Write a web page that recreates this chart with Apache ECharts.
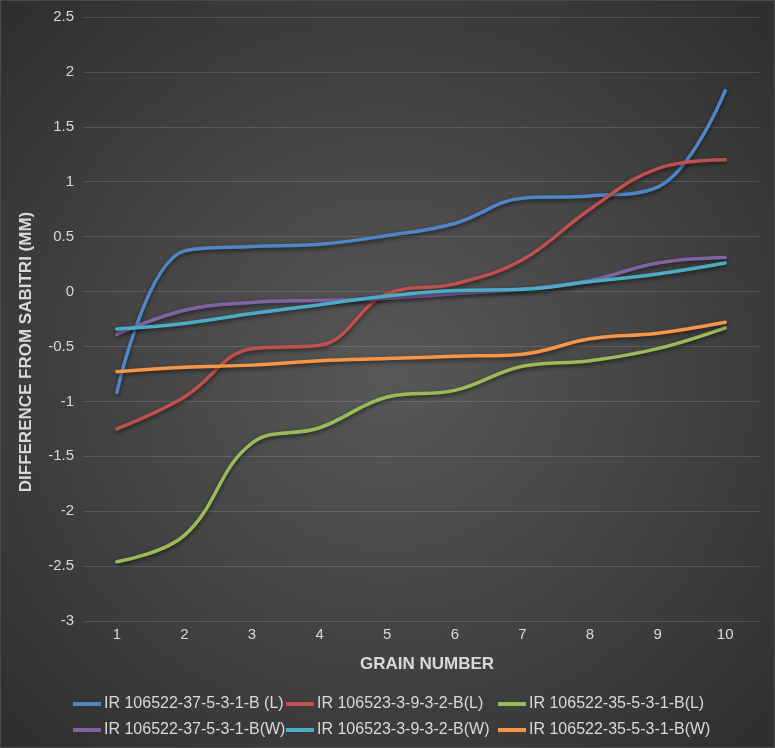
<!DOCTYPE html>
<html>
<head>
<meta charset="utf-8">
<script src="https://cdn.jsdelivr.net/npm/echarts@6/dist/echarts.min.js"></script>
<style>
  html, body { margin: 0; padding: 0; background: #2b2b2b; }
  #chart {
    width: 773px;
    height: 746px;
    border: 1px solid #4a4a4a;
    background: radial-gradient(ellipse at 50% 50%, #585858 0%, #464646 45%, #2e2e2e 100%);
  }
</style>
</head>
<body>
<div id="chart"></div>
<script>
const grainNumbers = ['1', '2', '3', '4', '5', '6', '7', '8', '9', '10']
const seriesNames = [
  'IR 106522-37-5-3-1-B (L)',
  'IR 106523-3-9-3-2-B(L)',
  'IR 106522-35-5-3-1-B(L)',
  'IR 106522-37-5-3-1-B(W)',
  'IR 106523-3-9-3-2-B(W)',
  'IR 106522-35-5-3-1-B(W)'
]
const length37 = [-0.92, 0.37, 0.41, 0.43, 0.51, 0.62, 0.85, 0.87, 0.95, 1.83]
const length523 = [-1.25, -0.96, -0.52, -0.49, -0.02, 0.07, 0.29, 0.75, 1.12, 1.20]
const length35 = [-2.46, -2.22, -1.38, -1.24, -0.96, -0.90, -0.68, -0.63, -0.52, -0.33]
const width37 = [-0.39, -0.17, -0.10, -0.08, -0.06, -0.02, 0.02, 0.10, 0.26, 0.31]
const width523 = [-0.34, -0.29, -0.20, -0.12, -0.04, 0.01, 0.02, 0.09, 0.16, 0.26]
const width35 = [-0.73, -0.69, -0.67, -0.63, -0.61, -0.59, -0.57, -0.43, -0.38, -0.28]
const yTicks = { min: -3, max: 2.5, interval: 0.5 }

const colors = ['#4f86c6', '#c0504d', '#9bbb59', '#8064a2', '#4bacc6', '#f79646']
const allValues = [length37, length523, length35, width37, width523, width35]

const textColor = '#d9d9d9'
const fontFamily = '"Liberation Sans", Arial, sans-serif'

const chartDom = document.getElementById('chart')
const myChart = echarts.init(chartDom)

const makeLegend = (left, names) => ({
  orient: 'vertical',
  left: left,
  top: 695,
  padding: 0,
  itemGap: 10,
  itemWidth: 28,
  itemHeight: 4,
  icon: 'rect',
  data: names,
  textStyle: {
    color: textColor,
    fontSize: 16,
    lineHeight: 16,
    fontFamily: fontFamily,
    padding: [0, 0, 0, -2]
  }
})

let option = {
  animation: false,
  color: colors,
  grid: {
    left: 82,
    right: 15,
    top: 16,
    bottom: 126
  },
  legend: [
    makeLegend(72, [seriesNames[0], seriesNames[3]]),
    makeLegend(285, [seriesNames[1], seriesNames[4]]),
    makeLegend(497, [seriesNames[2], seriesNames[5]])
  ],
  xAxis: {
    type: 'category',
    data: grainNumbers,
    boundaryGap: true,
    axisLine: { show: false },
    axisTick: { show: false },
    axisLabel: {
      color: textColor,
      fontSize: 15,
      fontFamily: fontFamily,
      margin: 6
    }
  },
  yAxis: {
    type: 'value',
    min: yTicks.min,
    max: yTicks.max,
    interval: yTicks.interval,
    axisLine: { show: false },
    axisTick: { show: false },
    axisLabel: {
      color: textColor,
      fontSize: 15,
      fontFamily: fontFamily,
      margin: 9
    },
    splitLine: {
      lineStyle: { color: 'rgba(255,255,255,0.13)', width: 1 }
    }
  },
  graphic: [
    {
      type: 'text',
      x: 25,
      y: 351,
      rotation: Math.PI / 2,
      style: {
        text: 'DIFFERENCE FROM SABITRI (MM)',
        fill: textColor,
        font: 'bold 17px ' + fontFamily,
        textAlign: 'center',
        textVerticalAlign: 'middle'
      }
    },
    {
      type: 'text',
      x: 426,
      y: 663,
      style: {
        text: 'GRAIN NUMBER',
        fill: textColor,
        font: 'bold 17px ' + fontFamily,
        textAlign: 'center',
        textVerticalAlign: 'middle'
      }
    }
  ],
  series: seriesNames.map((name, i) => ({
    name: name,
    type: 'line',
    data: allValues[i],
    smooth: 0.4,
    showSymbol: false,
    lineStyle: {
      width: 3.5,
      cap: 'round',
      shadowColor: 'rgba(0,0,0,0.55)',
      shadowBlur: 4,
      shadowOffsetY: 2
    }
  }))
}
option && myChart.setOption(option)
</script>
</body>
</html>
